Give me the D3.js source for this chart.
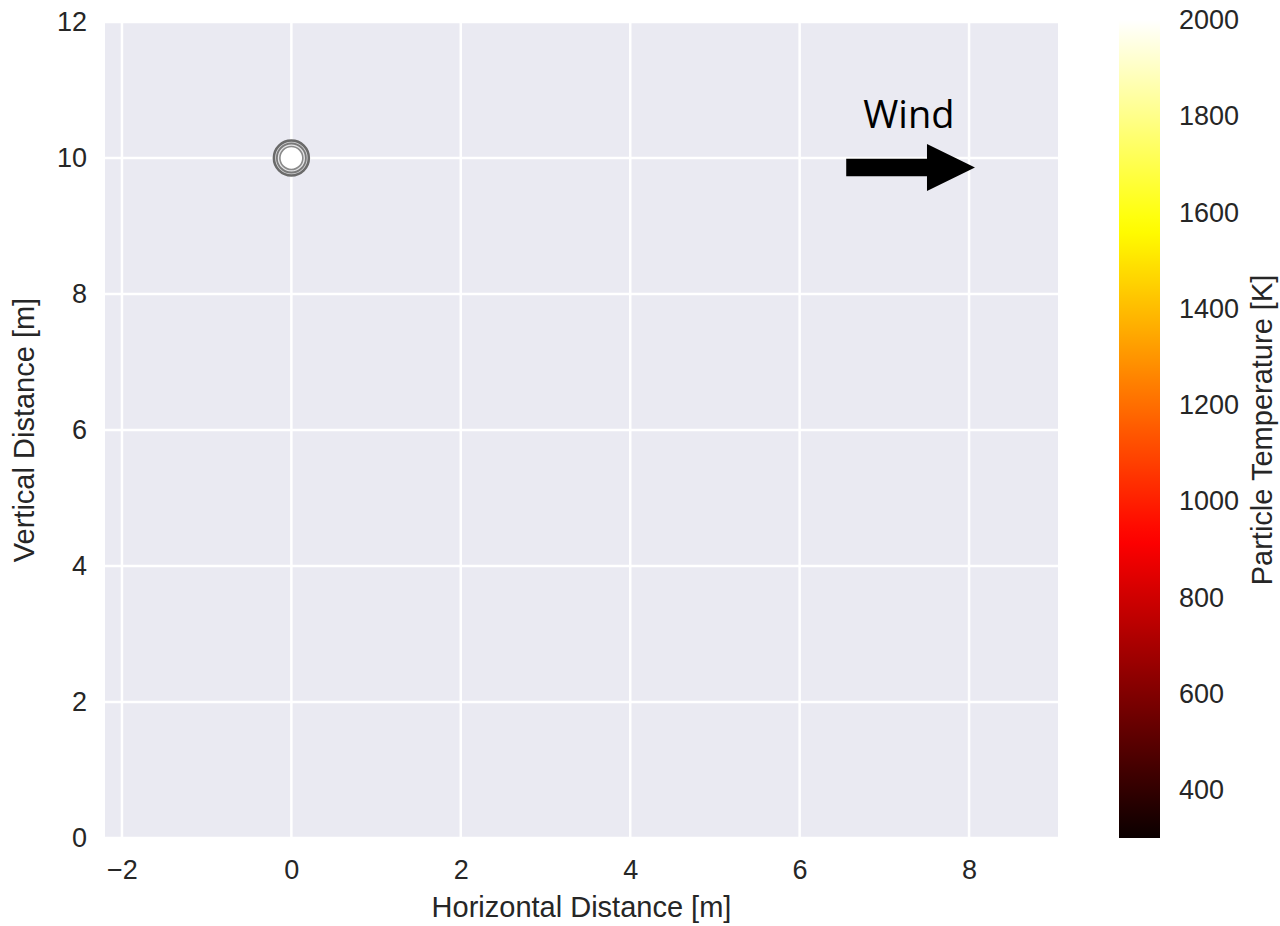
<!DOCTYPE html>
<html>
<head>
<meta charset="utf-8">
<script src="https://cdn.jsdelivr.net/npm/d3@7"></script>
<style>
  body { margin: 0; background: #fff; }
</style>
</head>
<body>
<div class="canvas"></div>
<script>
// data
const particleX = [0];
const particleY = [10];
const particleTemp = [2000];

const xTicks = [-2, 0, 2, 4, 6, 8];
const yTicks = [0, 2, 4, 6, 8, 10, 12];
const tempTicks = [400, 600, 800, 1000, 1200, 1400, 1600, 1800, 2000];

// wind annotation, in data units
const windStart = [6.55, 9.86];
const windEnd = [8.07, 9.86];

const font = '"Liberation Sans", Arial, sans-serif';
const ink = '#262626';

const svg = d3.select('.canvas')
    .append('svg')
    .attr('width', 1280)
    .attr('height', 926);

const margin = { top: 22, left: 105 };
const graphWidth = 1058 - margin.left;
const graphHeight = 838 - margin.top;

const x = d3.scaleLinear()
    .domain([-2.2, 9.05])
    .range([0, graphWidth]);

const y = d3.scaleLinear()
    .domain([0, 12])
    .range([graphHeight, 0]);

// matplotlib 'hot'
const hot = t => {
    const c = v => Math.max(0, Math.min(1, v));
    const r = c(0.0416 + (1 - 0.0416) * t / 0.365079);
    const g = c((t - 0.365079) / (0.746032 - 0.365079));
    const b = c((t - 0.746032) / (1 - 0.746032));
    return d3.rgb(r * 255, g * 255, b * 255).toString();
};
const tempDomain = [300, 2000];
const color = d3.scaleSequential(hot).domain(tempDomain);

const graph = svg.append('g')
    .attr('transform', `translate(${margin.left}, ${margin.top})`);

graph.append('rect')
    .attr('width', graphWidth)
    .attr('height', graphHeight)
    .attr('fill', '#eaeaf2');

// grid
graph.selectAll('.vgrid')
    .data(xTicks)
    .enter().append('line')
    .attr('x1', d => x(d)).attr('x2', d => x(d))
    .attr('y1', 0).attr('y2', graphHeight)
    .attr('stroke', '#fff')
    .attr('stroke-width', 2.5);

graph.selectAll('.hgrid')
    .data(yTicks)
    .enter().append('line')
    .attr('y1', d => y(d)).attr('y2', d => y(d))
    .attr('x1', 0).attr('x2', graphWidth)
    .attr('stroke', '#fff')
    .attr('stroke-width', 2.5);

// axes (no lines, just labels)
const xAxis = d3.axisBottom(x).tickValues(xTicks).tickSize(0).tickPadding(22)
    .tickFormat(d => d < 0 ? '\u2212' + Math.abs(d) : d);
const yAxis = d3.axisLeft(y).tickValues(yTicks).tickSize(0).tickPadding(18);

const xAxisGroup = graph.append('g')
    .attr('transform', `translate(0, ${graphHeight})`)
    .call(xAxis);
const yAxisGroup = graph.append('g').call(yAxis);

[xAxisGroup, yAxisGroup].forEach(g => {
    g.select('.domain').remove();
    g.selectAll('text')
        .attr('font-size', 27)
        .attr('font-family', font)
        .attr('fill', ink);
});

graph.append('text')
    .attr('x', graphWidth / 2)
    .attr('y', 895)
    .attr('text-anchor', 'middle')
    .attr('font-family', font)
    .attr('font-size', 29)
    .attr('fill', ink)
    .text('Horizontal Distance [m]');

graph.append('text')
    .attr('transform', `translate(${34 - margin.left}, ${graphHeight / 2}) rotate(-90)`)
    .attr('text-anchor', 'middle')
    .attr('font-family', font)
    .attr('font-size', 29)
    .attr('fill', ink)
    .text('Vertical Distance [m]');

// particles
const particles = particleX.map((d, i) => ({ x: d, y: particleY[i], t: particleTemp[i] }));
const marks = graph.selectAll('.particle')
    .data(particles)
    .enter().append('g')
    .attr('transform', d => `translate(${x(d.x)}, ${y(d.y)})`);

marks.append('circle').attr('r', 17.5).attr('fill', '#d4d4d6').attr('stroke', '#6a6a6a').attr('stroke-width', 2.5);
marks.append('circle').attr('r', 14.5).attr('fill', '#e6e6e8').attr('stroke', '#7a7a7a').attr('stroke-width', 1.8);
marks.append('circle').attr('r', 11.5).attr('fill', d => color(d.t)).attr('stroke', '#8a8a8a').attr('stroke-width', 1.6);

// wind arrow
const ax0 = x(windStart[0]), ax1 = x(windEnd[0]), ay = y(windEnd[1]);
const headLen = 48, shaftHalf = 8.7, headHalf = 23.5;
graph.append('path')
    .attr('d', `M${ax0},${ay - shaftHalf} L${ax1 - headLen},${ay - shaftHalf} L${ax1 - headLen},${ay - headHalf}
        L${ax1},${ay} L${ax1 - headLen},${ay + headHalf} L${ax1 - headLen},${ay + shaftHalf} L${ax0},${ay + shaftHalf} Z`)
    .attr('fill', '#000');

graph.append('text')
    .attr('x', x(7.29))
    .attr('y', y(10.44))
    .attr('text-anchor', 'middle')
    .attr('font-family', '"Open Sans", sans-serif')
    .attr('font-size', 38)
    .attr('fill', '#000')
    .text('Wind');

// colorbar
const cbX = 1119, cbW = 41;
const cbY = d3.scaleLinear().domain(tempDomain).range([838, 20]);

const grad = svg.append('defs').append('linearGradient')
    .attr('id', 'hotgrad')
    .attr('x1', 0).attr('y1', 1).attr('x2', 0).attr('y2', 0);
grad.selectAll('stop')
    .data(d3.range(0, 1.0001, 0.02))
    .enter().append('stop')
    .attr('offset', d => d)
    .attr('stop-color', d => hot(d));

svg.append('rect')
    .attr('x', cbX)
    .attr('y', cbY(tempDomain[1]))
    .attr('width', cbW)
    .attr('height', cbY(tempDomain[0]) - cbY(tempDomain[1]))
    .attr('fill', 'url(#hotgrad)');

const cbAxis = d3.axisRight(cbY).tickValues(tempTicks).tickSize(0).tickPadding(19)
    .tickFormat(d3.format('d'));
const cbGroup = svg.append('g')
    .attr('transform', `translate(${cbX + cbW}, 0)`)
    .call(cbAxis);
cbGroup.select('.domain').remove();
cbGroup.selectAll('text')
    .attr('font-size', 27)
    .attr('font-family', font)
    .attr('fill', ink);

svg.append('text')
    .attr('transform', `translate(1272, ${(838 + 22) / 2}) rotate(-90)`)
    .attr('text-anchor', 'middle')
    .attr('font-family', font)
    .attr('font-size', 29)
    .attr('fill', ink)
    .text('Particle Temperature [K]');
</script>
</body>
</html>
